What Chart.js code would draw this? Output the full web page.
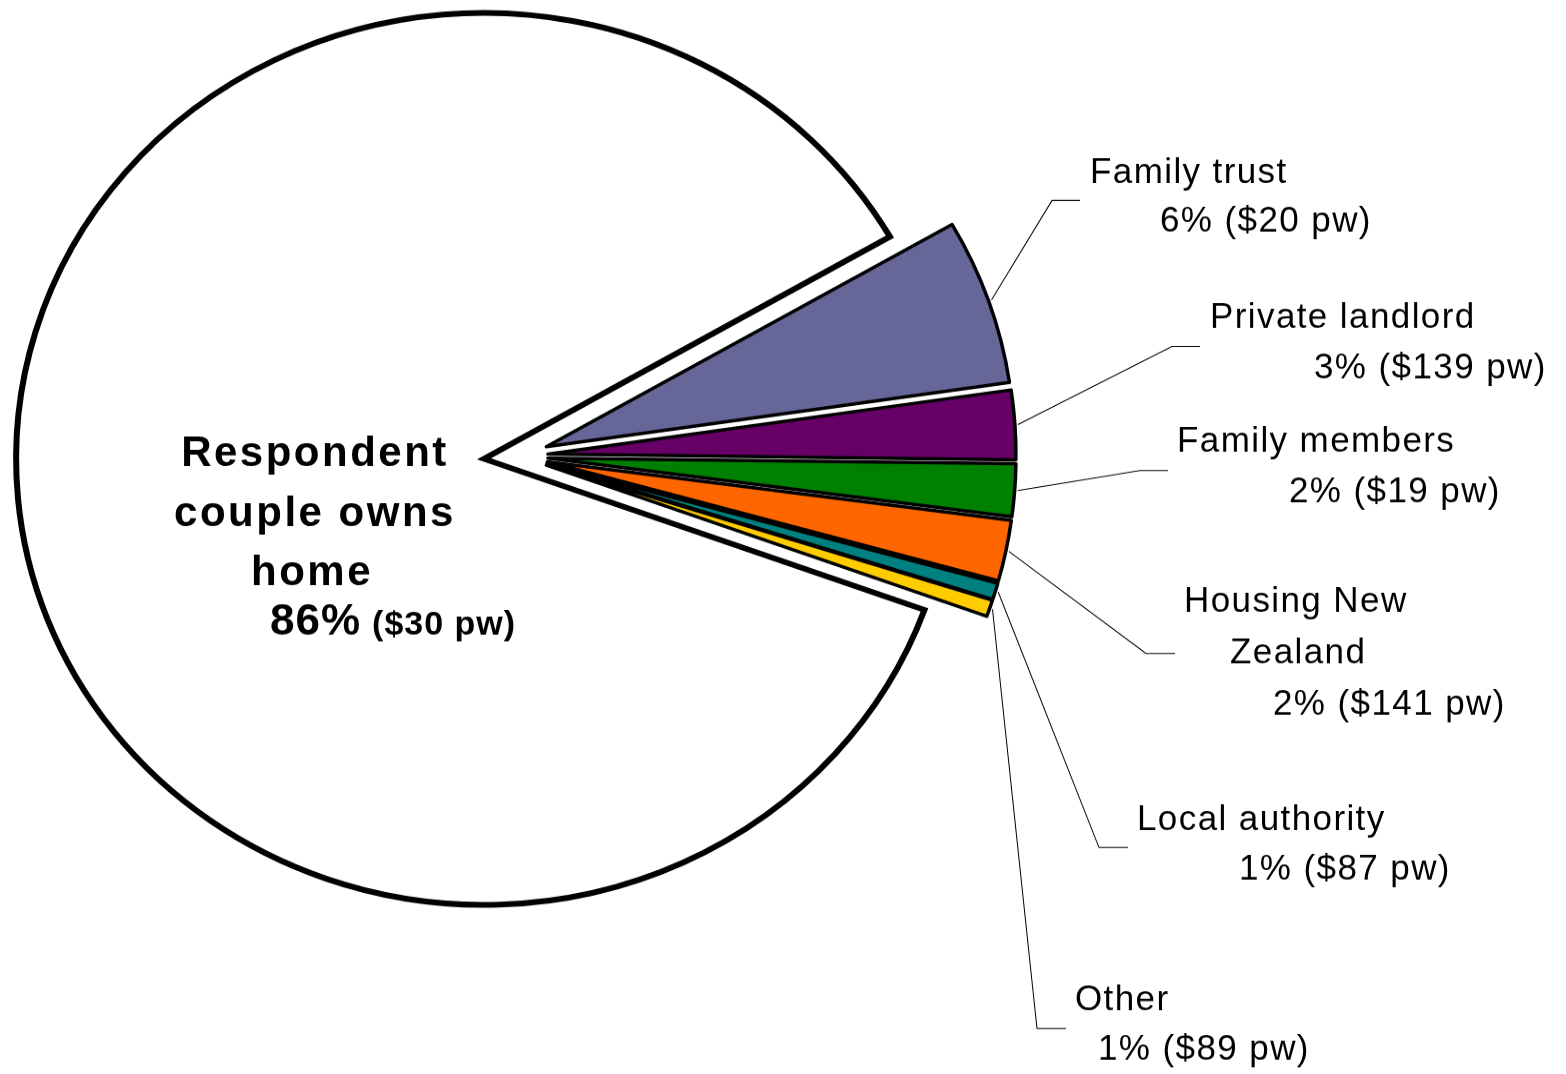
<!DOCTYPE html>
<html>
<head>
<meta charset="utf-8">
<title>Housing tenure of respondent couples</title>
<script src="https://cdn.jsdelivr.net/npm/chart.js@4.4.1/dist/chart.umd.min.js"></script>
<style>
  html, body { margin: 0; padding: 0; background: #fff; overflow: hidden; }
  #wrap { width: 1566px; height: 1127px; transform: scaleY(0.95297); transform-origin: 0 0; }
</style>
</head>
<body>
<div id="wrap"><canvas id="tenureChart" width="1566" height="1127"></canvas></div>
<script>
// tenure types, in the order they run round the pie
const categories = [
    ['Respondent', 'couple owns', 'home'],
    ['Family trust'],
    ['Private landlord'],
    ['Family members'],
    ['Housing New', 'Zealand'],
    ['Local authority'],
    ['Other']
];
// share of couples (%) and median weekly housing cost ($)
const shares = [86.2, 6.0, 2.5, 1.9, 2.2, 0.6, 0.6];
const weeklyCost = [30, 20, 139, 19, 141, 87, 89];

const sliceColours = ['#ffffff', '#666699', '#660066', '#008000', '#ff6600', '#008080', '#ffcc00'];
const explodeBy = [34, 30, 30, 30, 30, 30, 30];

// the canvas is drawn tall and squashed back down, so the pie comes out slightly oval
const squash = 1074 / 1127;

// label spots in page pixels: name lines, value line, leader elbow + end
const labelLayout = [
    { name: [[315, 466], [315, 526], [312, 585]], value: [270, 635] },
    { name: [[1090, 183]], value: [1160, 232], leader: [[1052, 200], [1080, 200]] },
    { name: [[1210, 328]], value: [1314, 378], leader: [[1172, 346], [1200, 346]] },
    { name: [[1177, 452]], value: [1289, 502], leader: [[1140, 470], [1168, 470]] },
    { name: [[1184, 612], [1230, 663]], value: [1273, 715], leader: [[1146, 653], [1175, 653]] },
    { name: [[1137, 830]], value: [1239, 880], leader: [[1099, 847], [1128, 847]] },
    { name: [[1075, 1010]], value: [1098, 1060], leader: [[1037, 1028], [1066, 1028]] }
];

const FONT = '"Liberation Sans", Arial, sans-serif';

// pull every slice out along its own middle angle
const explodePlugin = {
    id: 'explode',
    afterDatasetsUpdate(chart) {
        chart.getDatasetMeta(0).data.forEach((arc, i) => {
            const mid = (arc.startAngle + arc.endAngle) / 2;
            arc.x += explodeBy[i] * Math.cos(mid);
            arc.y += explodeBy[i] * Math.sin(mid);
        });
    }
};

const calloutPlugin = {
    id: 'callouts',
    afterDatasetsDraw(chart) {
        const ctx = chart.ctx;
        const arcs = chart.getDatasetMeta(0).data;
        ctx.save();
        ctx.scale(1, 1 / squash);   // draw text in page pixels, unsquashed
        ctx.fillStyle = '#000';
        ctx.strokeStyle = '#000';
        ctx.textBaseline = 'alphabetic';

        labelLayout.forEach((spot, i) => {
            const pct = Math.round(shares[i]) + '%';
            const cost = '($' + weeklyCost[i] + ' pw)';

            if (i === 0) {
                ctx.font = 'bold 42px ' + FONT;
                ctx.letterSpacing = '2.5px';
                ctx.textAlign = 'center';
                categories[i].forEach((line, k) => {
                    ctx.fillText(line, spot.name[k][0], spot.name[k][1]);
                });
                ctx.textAlign = 'left';
                ctx.letterSpacing = '1px';
                ctx.font = 'bold 44px ' + FONT;
                ctx.fillText(pct, spot.value[0], spot.value[1]);
                const w = ctx.measureText(pct).width;
                ctx.font = 'bold 34px ' + FONT;
                ctx.fillText(cost, spot.value[0] + w + 11, spot.value[1]);
                return;
            }

            // leader line from the rim of the slice
            const arc = arcs[i];
            const mid = (arc.startAngle + arc.endAngle) / 2;
            const r = arc.outerRadius + 3;
            const sx = arc.x + r * Math.cos(mid);
            const sy = (arc.y + r * Math.sin(mid)) * squash;
            ctx.lineWidth = 1;
            ctx.beginPath();
            ctx.moveTo(sx, sy);
            ctx.lineTo(spot.leader[0][0], spot.leader[0][1] + 0.5);
            ctx.lineTo(spot.leader[1][0], spot.leader[1][1] + 0.5);
            ctx.stroke();

            ctx.font = '35px ' + FONT;
            ctx.letterSpacing = '1.4px';
            ctx.textAlign = 'left';
            categories[i].forEach((line, k) => {
                ctx.fillText(line, spot.name[k][0], spot.name[k][1]);
            });
            ctx.fillText(pct + ' ' + cost, spot.value[0], spot.value[1]);
        });
        ctx.letterSpacing = '0px';
        ctx.restore();
    }
};

new Chart(document.getElementById('tenureChart'), {
    type: 'pie',
    data: {
        labels: categories,
        datasets: [
            {
                data: shares,
                backgroundColor: sliceColours,
                borderColor: '#000',
                borderWidth: [6, 3.5, 3.5, 3.5, 3.5, 3.5, 3.5],
                borderJoinStyle: ['miter', 'round', 'round', 'round', 'round', 'round', 'round'],
                hoverOffset: 0
            }
        ]
    },
    options: {
        responsive: false,
        animation: false,
        events: [],
        rotation: 109.8,
        radius: 468,
        layout: { padding: { left: 0, right: 530, top: 0, bottom: 170 } },
        plugins: {
            legend: { display: false },
            tooltip: { enabled: false }
        }
    },
    plugins: [explodePlugin, calloutPlugin]
});
</script>
</body>
</html>
